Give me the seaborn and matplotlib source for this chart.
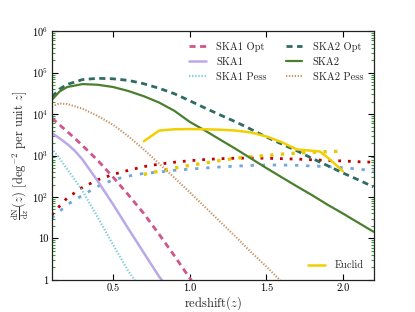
import numpy as np
import pandas as pd
import matplotlib
matplotlib.use("Agg")
import matplotlib.pyplot as plt
import matplotlib.ticker as mticker
import seaborn as sns

# redshift grids
z_full = [0.1, 0.15, 0.2, 0.3, 0.4, 0.5, 0.6, 0.7, 0.8, 0.9, 1.0, 1.1,
          1.2, 1.3, 1.4, 1.5, 1.6, 1.7, 1.8, 1.9, 2.0, 2.1, 2.2]
z_fine = [0.1, 0.15, 0.2, 0.25, 0.3, 0.4, 0.5, 0.6, 0.7, 0.8, 0.9, 1.0, 1.05]

# SKA2 curves (dN/dz per deg^2)
ska2_opt = [2.6e4, 4.0e4, 5.2e4, 6.8e4, 7.3e4, 7.1e4, 6.5e4, 5.4e4, 4.2e4, 3.1e4,
            2.1e4, 1.4e4, 9.5e3, 6.5e3, 4.3e3, 2.8e3, 1.9e3, 1.3e3, 850, 570,
            380, 260, 175]
ska2 = [2.2e4, 3.5e4, 4.5e4, 5.3e4, 5.1e4, 4.5e4, 3.6e4, 2.7e4, 1.9e4, 1.2e4,
        6.5e3, 4.0e3, 2.4e3, 1.45e3, 850, 500, 300, 180, 110, 65, 40, 24, 14.5]
z_s2p = [0.1, 0.15, 0.2, 0.3, 0.4, 0.5, 0.6, 0.7, 0.8, 0.9, 1.0, 1.1,
         1.2, 1.3, 1.4, 1.5, 1.6, 1.65]
ska2_pess = [1.55e4, 1.8e4, 1.75e4, 1.35e4, 9e3, 5.5e3, 2.9e3, 1.4e3, 640, 290,
             130, 57, 25, 11, 4.7, 2.1, 0.9, 0.6]

# SKA1 curves
ska1_opt = [8e3, 5.5e3, 3.8e3, 2.6e3, 1.74e3, 760, 300, 112, 40, 12.6, 3.8, 1.1, 0.6]
ska1 = [3.5e3, 2.6e3, 1.9e3, 1.3e3, 800, 240, 66, 17, 4.5, 1.2, 0.4, 0.2, 0.15]
ska1_pess = [1.5e3, 850, 470, 260, 140, 32, 7, 1.6, 0.5, 0.2, 0.1, 0.1, 0.1]

# other surveys (unlabelled)
red_dot = [37, 60, 95, 170, 260, 350, 440, 540, 620, 690, 750, 800,
           840, 860, 870, 860, 840, 820, 790, 760, 740, 710, 690]
blue_dd = [31, 45, 65, 110, 180, 260, 320, 370, 400, 440, 470, 500,
           530, 555, 575, 590, 590, 580, 560, 540, 510, 470, 430]
z_ydot = [0.7, 0.8, 0.9, 1.0, 1.1, 1.2, 1.3, 1.4, 1.5, 1.6, 1.7, 1.8, 1.9, 2.0]
yellow_dot = [350, 420, 500, 580, 660, 760, 860, 940, 1000, 1080, 1150, 1200, 1240, 1270]

# Euclid
z_euclid = [0.7, 0.8, 0.9, 1.0, 1.1, 1.2, 1.3, 1.4, 1.5, 1.6, 1.7, 1.8, 1.85, 1.9, 2.0]
euclid = [2.2e3, 4.0e3, 4.3e3, 4.35e3, 4.3e3, 4.2e3, 4.0e3, 3.6e3, 2.9e3, 2.1e3,
          1.4e3, 1.3e3, 1.25e3, 900, 420]

sns.set_style("ticks")
plt.rcParams['font.family'] = ['cmr10', 'DejaVu Serif']
plt.rcParams['mathtext.fontset'] = 'cm'
plt.rcParams['axes.formatter.use_mathtext'] = True

fig = plt.figure(figsize=(4.15, 3.12), dpi=100)
ax = fig.add_axes([0.125, 0.103, 0.775, 0.797])

def draw(x, y, color, lw, dashes=None, label=None):
    df = pd.DataFrame({'z': x, 'n': y})
    sns.lineplot(data=df, x='z', y='n', ax=ax, color=color, lw=lw,
                 label=label, legend=False)
    line = ax.lines[-1]
    if dashes is not None:
        line.set_dashes(dashes)
    return line

h = {}
draw(z_full, red_dot, '#c00000', 2.0, (1, 2.5))
draw(z_full, blue_dd, '#6fa8dc', 2.0, (1.2, 2.8))
draw(z_ydot, yellow_dot, '#e8c800', 2.4, (1, 2.2))
h['SKA1 Opt'] = draw(z_fine, ska1_opt, '#d0558a', 2.0, (2.2, 1.6))
h['SKA1'] = draw(z_fine, ska1, '#baa8e8', 1.8)
h['SKA1 Pess'] = draw(z_fine, ska1_pess, '#7ccbdc', 1.6, (0.6, 0.8))
h['SKA2 Opt'] = draw(z_full, ska2_opt, '#2e6b62', 2.0, (2.2, 1.6))
h['SKA2'] = draw(z_full, ska2, '#4b7f2e', 1.6)
h['SKA2 Pess'] = draw(z_s2p, ska2_pess, '#c49060', 1.5, (0.6, 0.8))
h['Euclid'] = draw(z_euclid, euclid, '#f0d000', 1.8)

ax.set_yscale('log')
ax.set_xlim(0.1, 2.2)
ax.set_ylim(1, 1e6)
ax.xaxis.set_major_locator(mticker.FixedLocator([0.5, 1.0, 1.5, 2.0]))
ax.xaxis.set_major_formatter(mticker.FormatStrFormatter('%.1f'))

def yfmt(v, pos):
    e = int(round(np.log10(v)))
    if e == 0:
        return '1'
    if e == 1:
        return '10'
    return r'$10^{%d}$' % e

ax.yaxis.set_major_formatter(mticker.FuncFormatter(yfmt))
ax.yaxis.set_minor_locator(mticker.LogLocator(base=10, subs=np.arange(2, 10), numticks=20))
ax.yaxis.set_minor_formatter(mticker.NullFormatter())
ax.tick_params(which='major', direction='in', top=True, right=True,
               length=4, width=0.8, labelsize=7.5, colors='black', pad=2.5)
ax.tick_params(axis='y', which='minor', direction='in', right=True,
               length=2, width=0.8, color='#3a9a3a')
for s in ax.spines.values():
    s.set_linewidth(0.9)
    s.set_color('#222222')

ax.set_xlabel(r'redshift$(z)$', fontsize=9, labelpad=1)
ax.set_ylabel(r'$\frac{\mathrm{dN}}{\mathrm{d}z}(z)$ [deg$^{-2}$ per unit $z$]',
              fontsize=9, labelpad=1)

names = ['SKA1 Opt', 'SKA1', 'SKA1 Pess', 'SKA2 Opt', 'SKA2', 'SKA2 Pess']
leg1 = ax.legend([h[n] for n in names], names, loc='upper right', ncol=2,
                 frameon=False, fontsize=7.5, handlelength=1.6, columnspacing=1.8,
                 handletextpad=1.0, labelspacing=0.55, borderaxespad=0.6)
ax.add_artist(leg1)
ax.legend([h['Euclid']], ['Euclid'], loc='lower right', frameon=False,
          fontsize=7.5, handlelength=1.6, handletextpad=1.0, borderaxespad=0.5)

fig.savefig('out.png', dpi=100)
plt.close('all')
